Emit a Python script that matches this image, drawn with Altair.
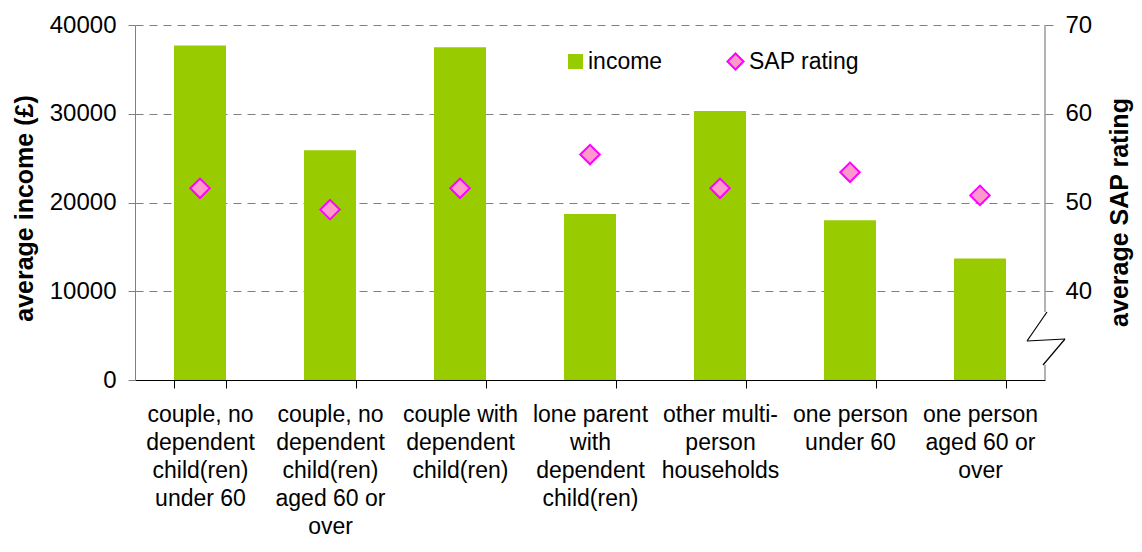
import altair as alt
import pandas as pd

# ---- data ----
CATEGORIES = [
    "couple, no|dependent|child(ren)|under 60",
    "couple, no|dependent|child(ren)|aged 60 or|over",
    "couple with|dependent|child(ren)",
    "lone parent|with|dependent|child(ren)",
    "other multi-|person|households",
    "one person|under 60",
    "one person|aged 60 or|over",
]
INCOME = [37700, 25900, 37500, 18700, 30300, 18000, 13700]
SAP = [51.6, 49.2, 51.6, 55.4, 51.6, 53.4, 50.8]
INCOME_TICKS = [0, 10000, 20000, 30000, 40000]
SAP_TICKS = [40, 50, 60, 70]

FONT = "Liberation Sans"
GREEN = "#99cc00"
PINK = "#ff99cc"
MAGENTA = "#ff00ff"
GREY = "#808080"

W, H = 910, 355

df = pd.DataFrame({"category": CATEGORIES, "income": INCOME, "sap": SAP})
base = alt.Chart(df)

x_enc = alt.X(
    "category:N",
    sort=CATEGORIES,
    scale=alt.Scale(paddingInner=0.6, paddingOuter=0.3),
    axis=alt.Axis(
        title=None,
        labelExpr="split(datum.label, '|')",
        labelAngle=0,
        labelAlign="center",
        labelBaseline="top",
        labelFontSize=23,
        labelColor="black",
        labelLineHeight=28,
        labelPadding=15,
        labelLimit=200,
        tickSize=8,
        tickColor="black",
        domainColor="black",
        tickBand="extent",
        grid=False,
    ),
)

bars = (
    base.transform_calculate(series="'income'")
    .mark_bar()
    .encode(
        x=x_enc,
        y=alt.Y(
            "income:Q",
            scale=alt.Scale(domain=[0, 40000], nice=False, zero=True),
            axis=alt.Axis(
                title="average income (£)",
                values=INCOME_TICKS,
                format="d",
                tickSize=7,
                tickColor=GREY,
                domainColor=GREY,
                labelFontSize=24,
                labelColor="black",
                labelPadding=12,
                grid=True,
                gridColor=GREY,
                gridDash=[8, 6],
                titleFontSize=25,
                titleFontWeight="bold",
                titleColor="black",
                titleAngle=270,
                titleX=-111,
                titleY=183,
                titleAlign="center",
                titleBaseline="middle",
            ),
        ),
        color=alt.Color(
            "series:N",
            scale=alt.Scale(domain=["income"], range=[GREEN]),
            legend=alt.Legend(
                title=None,
                orient="none",
                legendX=429,
                legendY=25,
                symbolType="square",
                symbolSize=225,
                symbolStrokeWidth=0,
                labelOffset=1,
            ),
        ),
    )
)

points = (
    base.transform_calculate(series2="'SAP rating'")
    .mark_point(shape="diamond", filled=True, size=380, stroke=MAGENTA, strokeWidth=2, opacity=1)
    .encode(
        x=x_enc,
        y=alt.Y(
            "sap:Q",
            scale=alt.Scale(domain=[30, 70], nice=False, zero=False),
            axis=alt.Axis(
                orient="right",
                title="average SAP rating",
                values=SAP_TICKS,
                domain=False,
                grid=False,
                tickSize=8,
                tickColor=GREY,
                labelFontSize=24,
                labelColor="black",
                labelPadding=12,
                titleFontSize=25,
                titleFontWeight="bold",
                titleColor="black",
                titleAngle=270,
                titleX=74,
                titleY=187,
                titleAlign="center",
                titleBaseline="middle",
            ),
        ),
        fill=alt.Fill(
            "series2:N",
            scale=alt.Scale(domain=["SAP rating"], range=[PINK]),
            legend=alt.Legend(
                title=None,
                orient="none",
                legendX=589,
                legendY=25,
                symbolType="diamond",
                symbolSize=260,
                symbolStrokeColor=MAGENTA,
                symbolStrokeWidth=2,
                labelOffset=2,
            ),
        ),
    )
)

one = pd.DataFrame({"k": [0]})


def seg(x1, y1, x2, y2, color):
    return (
        alt.Chart(one)
        .mark_rule(color=color, strokeWidth=1.2)
        .encode(x=alt.value(x1), y=alt.value(y1), x2=alt.value(x2), y2=alt.value(y2))
    )


# right axis line with a scale break (decoration)
decor = [
    seg(W, 0, W, 287, GREY),
    seg(W, 340, W, H, GREY),
    seg(912, 287, 892, 316, "black"),
    seg(892, 316, 930, 314, "black"),
    seg(930, 314, 908, 340, "black"),
]

chart = (
    alt.layer(bars, points, *decor)
    .resolve_scale(y="independent")
    .properties(
        width=W,
        height=H,
        autosize=alt.AutoSizeParams(type="none"),
        padding={"left": 127, "top": 17, "right": 89, "bottom": 164},
    )
    .configure_view(stroke="transparent")
    .configure_axis(labelFont=FONT, titleFont=FONT)
    .configure_legend(labelFont=FONT, labelFontSize=23, labelColor="black", padding=0)
)

chart.save("out.html", embed_options={"renderer": "svg", "actions": False})
